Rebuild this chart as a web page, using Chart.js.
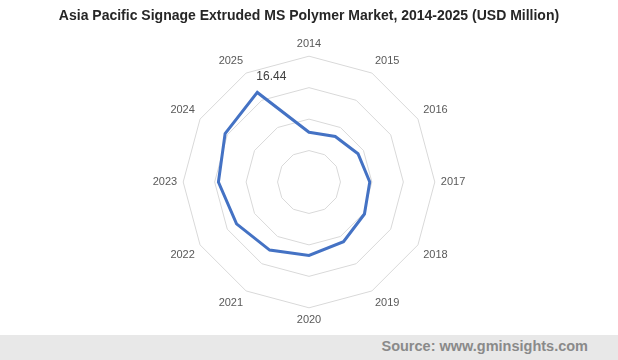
<!DOCTYPE html>
<html>
<head>
<meta charset="utf-8">
<script src="https://cdn.jsdelivr.net/npm/chart.js@4/dist/chart.umd.min.js"></script>
<style>
  html, body { margin: 0; padding: 0; background: #ffffff; }
  #wrap { position: relative; width: 618px; height: 360px; overflow: hidden; }
  #footer { position: absolute; left: 0; top: 335px; width: 618px; height: 25px; background: #e8e8e8; }
  #source { position: absolute; right: 30px; top: 338px; font: bold 14.5px "Liberation Sans", Arial, sans-serif; color: #8a8a8a; }
  canvas { position: absolute; left: 0; top: 0; }
</style>
</head>
<body>
<div id="wrap">
  <div id="footer"></div>
  <div id="source">Source: www.gminsights.com</div>
  <canvas id="c" width="618" height="360"></canvas>
</div>
<script>
const categories = ["2014","2015","2016","2017","2018","2019","2020","2021","2022","2023","2024","2025"];
const marketValues = [7.9, 8.35, 9.0, 9.66, 10.18, 10.97, 11.68, 12.5, 13.3, 14.4, 15.4, 16.44];
const labeledIndex = 11;
const labeledText = "16.44";

const valueLabelPlugin = {
  id: 'valueLabel',
  afterDatasetsDraw(chart) {
    const meta = chart.getDatasetMeta(0);
    const pt = meta.data[labeledIndex];
    if (!pt) return;
    const ctx = chart.ctx;
    ctx.save();
    ctx.font = '12px "Liberation Sans", Arial, sans-serif';
    ctx.fillStyle = '#404040';
    ctx.textAlign = 'center';
    ctx.textBaseline = 'middle';
    ctx.fillText(labeledText, pt.x + 14, pt.y - 15.5);
    ctx.restore();
  }
};

new Chart(document.getElementById('c'), {
  type: 'radar',
  data: {
    labels: categories,
    datasets: [{
      data: marketValues,
      borderColor: '#4472C4',
      backgroundColor: 'rgba(0,0,0,0)',
      borderWidth: 3,
      pointRadius: 0,
      pointHoverRadius: 0,
      fill: false,
      tension: 0
    }]
  },
  options: {
    responsive: false,
    animation: false,
    layout: { padding: { top: 0, bottom: 33, left: 0, right: 0 } },
    plugins: {
      legend: { display: false },
      tooltip: { enabled: false },
      title: {
        display: true,
        text: 'Asia Pacific Signage Extruded MS Polymer Market, 2014-2025 (USD Million)',
        color: '#262626',
        font: { family: '"Liberation Sans", Arial, sans-serif', size: 14, weight: 'bold' },
        padding: { top: 7.6, bottom: 12.6 }
      }
    },
    scales: {
      r: {
        min: 0,
        max: 20,
        ticks: { display: false, stepSize: 5 },
        angleLines: { display: false },
        grid: { color: '#d9d9d9', lineWidth: 1 },
        pointLabels: {
          display: true,
          padding: 6,
          color: '#595959',
          font: { family: '"Liberation Sans", Arial, sans-serif', size: 11 }
        }
      }
    }
  },
  plugins: [valueLabelPlugin]
});
</script>
</body>
</html>
